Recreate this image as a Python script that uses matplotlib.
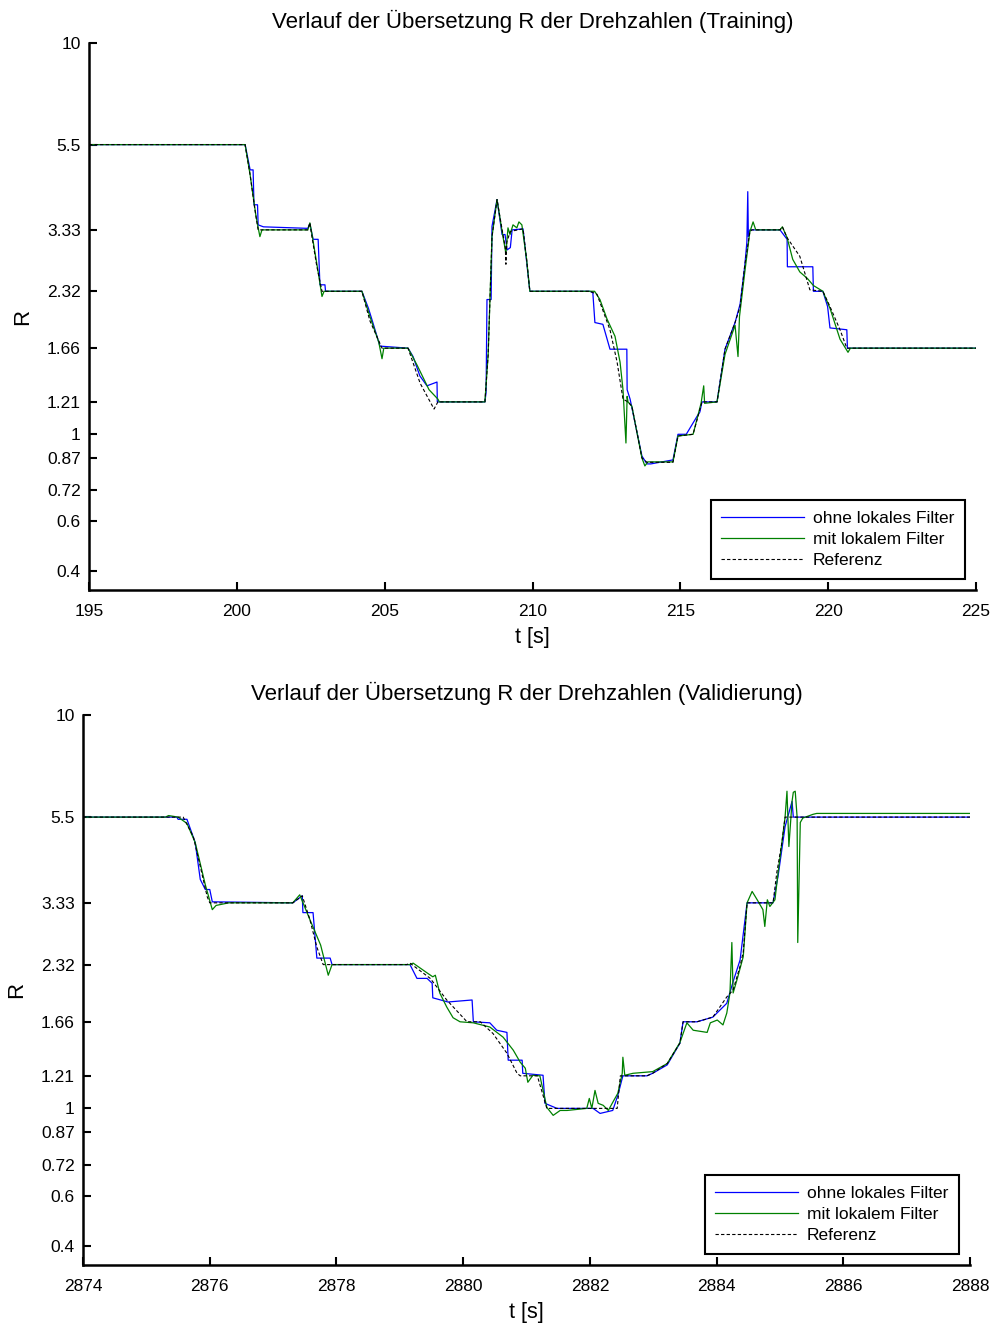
import matplotlib
matplotlib.use("Agg")
import matplotlib.pyplot as plt
from matplotlib.ticker import NullLocator

# ------------------------------
# Daten (abgelesen aus dem Originalbild)
# ------------------------------
# Training: Referenz
train_ref_t = [195, 200.28, 200.45, 200.6, 200.72, 202.40, 202.47, 202.54, 202.7, 202.88,
               204.23, 204.5, 204.91, 205.79, 206.2, 206.67, 206.80, 208.39, 208.50, 208.63,
               208.80, 209.0, 209.08, 209.10, 209.13, 209.25, 209.68, 209.80, 209.91, 211.94,
               212.18, 212.62, 212.86, 213.06, 213.23, 213.36, 213.70, 213.87, 214.75, 214.92,
               215.43, 215.73, 216.24, 216.51, 216.85, 217.02, 217.18, 217.35, 217.42, 218.37,
               218.45, 218.61, 219.04, 219.38, 219.82, 220.06, 220.40, 220.63, 225]
train_ref_r = [5.5, 5.5, 4.6, 3.8, 3.33, 3.33, 3.47, 3.2, 2.7, 2.32,
               2.32, 1.95, 1.66, 1.66, 1.35, 1.16, 1.21, 1.21, 1.6, 3.2,
               3.98, 3.24, 3.0, 2.72, 3.1, 3.3, 3.35, 2.8, 2.32, 2.32,
               2.28, 1.85, 1.53, 1.23, 1.21, 1.18, 0.87, 0.848, 0.848, 0.99,
               1.0, 1.21, 1.21, 1.65, 1.93, 2.12, 2.71, 3.29, 3.33, 3.33,
               3.39, 3.18, 2.85, 2.34, 2.32, 2.12, 1.85, 1.66, 1.66]

# Training: ohne lokales Filter
train_ohne_t = [195, 200.28, 200.45, 200.55, 200.58, 200.70, 200.72, 200.90, 202.40, 202.47,
                202.58, 202.75, 202.81, 202.98, 203.0, 204.23, 204.45, 204.60, 204.84, 205.79,
                205.96, 206.19, 206.43, 206.77, 206.78, 208.39, 208.43, 208.46, 208.60, 208.63,
                208.80, 208.97, 209.07, 209.14, 209.25, 209.31, 209.68, 209.91, 211.94, 212.04,
                212.11, 212.38, 212.62, 213.19, 213.20, 213.30, 213.70, 213.87, 214.0, 214.75,
                214.92, 215.20, 215.56, 215.66, 215.73, 216.24, 216.51, 216.85, 217.02, 217.18,
                217.25, 217.28, 217.30, 217.35, 218.37, 218.61, 218.62, 219.48, 219.50, 219.82,
                219.98, 220.06, 220.63, 220.65, 225]
train_ohne_r = [5.5, 5.5, 4.74, 4.74, 3.86, 3.86, 3.43, 3.39, 3.36, 3.45,
                3.15, 3.15, 2.41, 2.41, 2.32, 2.32, 2.1, 1.93, 1.68, 1.66,
                1.58, 1.41, 1.33, 1.36, 1.21, 1.21, 1.28, 2.21, 2.21, 3.40,
                3.98, 3.24, 3.24, 2.96, 3.0, 3.33, 3.35, 2.32, 2.32, 2.3,
                1.93, 1.91, 1.65, 1.65, 1.30, 1.23, 0.88, 0.84, 0.84, 0.86,
                1.0, 1.0, 1.11, 1.14, 1.21, 1.21, 1.65, 1.93, 2.15, 2.7,
                3.1, 4.17, 3.2, 3.33, 3.33, 3.15, 2.68, 2.68, 2.32, 2.32,
                2.12, 1.87, 1.85, 1.66, 1.66]

# Training: mit lokalem Filter
train_mit_t = [195, 200.28, 200.45, 200.65, 200.78, 200.85, 202.40, 202.47, 202.54, 202.75,
               202.88, 202.95, 204.23, 204.5, 204.80, 204.91, 204.97, 205.79, 206.1, 206.5,
               206.80, 206.85, 208.39, 208.50, 208.63, 208.80, 208.97, 209.10, 209.17, 209.24,
               209.34, 209.47, 209.54, 209.64, 209.80, 209.91, 212.10, 212.28, 212.52, 212.79,
               212.96, 213.06, 213.16, 213.20, 213.23, 213.36, 213.70, 213.80, 213.90, 214.75,
               214.92, 215.43, 215.70, 215.79, 215.82, 216.24, 216.51, 216.85, 216.95, 217.00,
               217.18, 217.35, 217.46, 217.55, 218.37, 218.45, 218.61, 218.8, 219.04, 219.3,
               219.5, 219.82, 220.06, 220.40, 220.67, 220.75, 225]
train_mit_r = [5.5, 5.5, 4.6, 3.6, 3.2, 3.33, 3.33, 3.47, 3.25, 2.6,
               2.25, 2.32, 2.32, 2.0, 1.72, 1.56, 1.66, 1.66, 1.5, 1.30,
               1.23, 1.21, 1.21, 1.6, 3.2, 3.98, 3.3, 2.9, 3.37, 3.24,
               3.43, 3.37, 3.49, 3.43, 2.8, 2.32, 2.32, 2.21, 1.97, 1.78,
               1.53, 1.30, 0.95, 1.25, 1.21, 1.18, 0.87, 0.83, 0.85, 0.85,
               0.99, 1.0, 1.2, 1.33, 1.2, 1.21, 1.6, 1.9, 1.58, 2.0,
               2.6, 3.29, 3.49, 3.33, 3.33, 3.39, 3.18, 2.8, 2.6, 2.5,
               2.4, 2.32, 2.1, 1.75, 1.62, 1.66, 1.66]

# Validierung: Referenz
val_ref_t = [2874, 2875.58, 2875.74, 2875.85, 2875.96, 2876.00, 2877.31, 2877.46, 2877.58, 2877.69,
             2877.79, 2879.11, 2879.16, 2879.48, 2879.74, 2880.06, 2880.27, 2880.47, 2880.69, 2880.85,
             2880.90, 2881.17, 2881.32, 2882.43, 2882.48, 2882.90, 2882.99, 2883.22, 2883.42, 2883.47,
             2883.69, 2883.94, 2884.16, 2884.26, 2884.37, 2884.42, 2884.48, 2884.89, 2884.95, 2885.03,
             2885.08, 2888]
val_ref_r = [5.5, 5.5, 4.91, 4.12, 3.45, 3.33, 3.33, 3.47, 3.02, 2.57,
             2.32, 2.32, 2.34, 2.14, 1.886, 1.66, 1.66, 1.55, 1.381, 1.228,
             1.21, 1.21, 1.0, 1.0, 1.21, 1.21, 1.228, 1.3, 1.465, 1.66,
             1.66, 1.706, 1.92, 2.0, 2.3, 2.5, 3.33, 3.33, 3.98, 4.74,
             5.5, 5.5]

# Validierung: ohne lokales Filter
val_ohne_t = [2874, 2875.48, 2875.50, 2875.64, 2875.77, 2875.85, 2875.93, 2876.00, 2876.04, 2877.31,
              2877.46, 2877.47, 2877.63, 2877.69, 2877.90, 2877.93, 2879.16, 2879.27, 2879.43, 2879.51,
              2879.52, 2879.76, 2880.14, 2880.16, 2880.42, 2880.53, 2880.69, 2880.71, 2880.93, 2880.94,
              2881.26, 2881.29, 2881.48, 2882.05, 2882.16, 2882.36, 2882.44, 2882.52, 2882.90, 2882.99,
              2883.22, 2883.42, 2883.47, 2883.69, 2883.94, 2884.16, 2884.26, 2884.37, 2884.48, 2884.89,
              2884.97, 2885.08, 2885.19, 2885.21, 2888]
val_ohne_r = [5.5, 5.5, 5.43, 5.43, 4.74, 3.82, 3.6, 3.6, 3.35, 3.33,
              3.47, 3.145, 3.145, 2.41, 2.41, 2.32, 2.32, 2.14, 2.14, 2.08,
              1.91, 1.864, 1.886, 1.66, 1.65, 1.58, 1.56, 1.326, 1.326, 1.228,
              1.214, 1.03, 1.0, 1.0, 0.971, 0.988, 1.079, 1.21, 1.21, 1.228,
              1.29, 1.465, 1.66, 1.66, 1.706, 1.85, 2.1, 2.385, 3.33, 3.33,
              3.9, 5.2, 6.03, 5.5, 5.5]

# Validierung: mit lokalem Filter
val_mit_t = [2874, 2875.3, 2875.35, 2875.50, 2875.64, 2875.77, 2875.93, 2876.04, 2876.10, 2876.3,
             2877.31, 2877.42, 2877.58, 2877.75, 2877.87, 2877.93, 2879.16, 2879.21, 2879.43, 2879.52,
             2879.56, 2879.63, 2879.74, 2879.84, 2879.95, 2880.16, 2880.42, 2880.63, 2880.79, 2880.90,
             2880.98, 2881.02, 2881.10, 2881.21, 2881.32, 2881.42, 2881.53, 2881.64, 2881.95, 2881.99,
             2882.03, 2882.08, 2882.13, 2882.21, 2882.29, 2882.36, 2882.44, 2882.51, 2882.52, 2882.55,
             2882.68, 2882.99, 2883.22, 2883.42, 2883.53, 2883.63, 2883.85, 2883.90, 2884.01, 2884.10,
             2884.16, 2884.21, 2884.24, 2884.26, 2884.32, 2884.42, 2884.48, 2884.56, 2884.64, 2884.73,
             2884.76, 2884.80, 2884.84, 2884.92, 2884.97, 2885.03, 2885.08, 2885.11, 2885.14, 2885.19,
             2885.21, 2885.24, 2885.27, 2885.28, 2885.32, 2885.36, 2885.52, 2885.58, 2888]
val_mit_r = [5.5, 5.5, 5.55, 5.5, 5.3, 4.74, 3.7, 3.2, 3.28, 3.33,
             3.33, 3.49, 3.02, 2.6, 2.18, 2.32, 2.32, 2.34, 2.21, 2.16,
             2.18, 1.965, 1.81, 1.70, 1.66, 1.65, 1.61, 1.517, 1.406, 1.31,
             1.265, 1.165, 1.214, 1.21, 1.006, 0.96, 0.988, 0.988, 1.0, 1.06,
             1.0, 1.111, 1.03, 1.018, 0.988, 1.036, 1.092, 1.228, 1.349, 1.214,
             1.228, 1.24, 1.3, 1.47, 1.65, 1.58, 1.56, 1.65, 1.677, 1.63,
             1.747, 1.965, 2.64, 1.965, 2.12, 2.43, 3.33, 3.56, 3.39, 3.20,
             2.90, 3.39, 3.26, 3.39, 3.98, 4.74, 5.5, 6.40, 4.63, 6.03,
             6.36, 6.40, 5.5, 2.64, 5.33, 5.47, 5.59, 5.62, 5.62]

# Achsen-Beschriftungen
ytick_pos = [0.447, 0.6, 0.72, 0.87, 1, 1.21, 1.66, 2.32, 3.33, 5.5, 10]
ytick_labels = ["0.4", "0.6", "0.72", "0.87", "1", "1.21", "1.66", "2.32", "3.33", "5.5", "10"]
train_xticks = [195, 200, 205, 210, 215, 220, 225]
val_xticks = [2874, 2876, 2878, 2880, 2882, 2884, 2886, 2888]
legend_labels = ["ohne lokales Filter", "mit lokalem Filter", "Referenz"]

plt.rcParams['font.family'] = ['Liberation Sans', 'DejaVu Sans']


def draw_panel(ax, title, t_ohne, r_ohne, t_mit, r_mit, t_ref, r_ref, xticks):
    ax.plot(t_ohne, r_ohne, color="#0000ff", linewidth=0.9, label=legend_labels[0])
    ax.plot(t_mit, r_mit, color="#008000", linewidth=0.9, label=legend_labels[1])
    ax.plot(t_ref, r_ref, color="black", linewidth=0.8, linestyle=(0, (3, 2)),
            label=legend_labels[2])

    ax.set_yscale("log")
    ax.set_ylim(0.4, 10)
    ax.set_xlim(xticks[0], xticks[-1])
    ax.set_yticks(ytick_pos)
    ax.set_yticklabels(ytick_labels)
    ax.yaxis.set_minor_locator(NullLocator())
    ax.set_xticks(xticks)
    ax.set_xticklabels([str(x) for x in xticks])

    for side in ("top", "right"):
        ax.spines[side].set_visible(False)
    for side in ("left", "bottom"):
        ax.spines[side].set_linewidth(1.8)
    ax.tick_params(direction="in", length=6, width=1.5, labelsize=12.5)
    ax.tick_params(axis="x", pad=10)
    ax.tick_params(axis="y", pad=6)

    ax.set_title(title, fontsize=16, pad=11)
    ax.set_xlabel("t [s]", fontsize=15.5, labelpad=6)
    ax.set_ylabel("R", fontsize=16, labelpad=10)

    leg = ax.legend(loc="lower right", fontsize=12.5, fancybox=False, framealpha=1,
                    edgecolor="black", handlelength=4.8, handletextpad=0.5,
                    labelspacing=0.35, borderaxespad=0.65, borderpad=0.6)
    leg.get_frame().set_linewidth(1.5)


fig = plt.figure(figsize=(9.91, 13.24), dpi=100)
ax1 = fig.add_axes([0.0898, 0.5544, 0.8951, 0.4131])
ax2 = fig.add_axes([0.0838, 0.0446, 0.8951, 0.4154])

draw_panel(ax1, "Verlauf der Übersetzung R der Drehzahlen (Training)",
           train_ohne_t, train_ohne_r, train_mit_t, train_mit_r,
           train_ref_t, train_ref_r, train_xticks)
draw_panel(ax2, "Verlauf der Übersetzung R der Drehzahlen (Validierung)",
           val_ohne_t, val_ohne_r, val_mit_t, val_mit_r,
           val_ref_t, val_ref_r, val_xticks)

fig.savefig("out.png", dpi=100)
